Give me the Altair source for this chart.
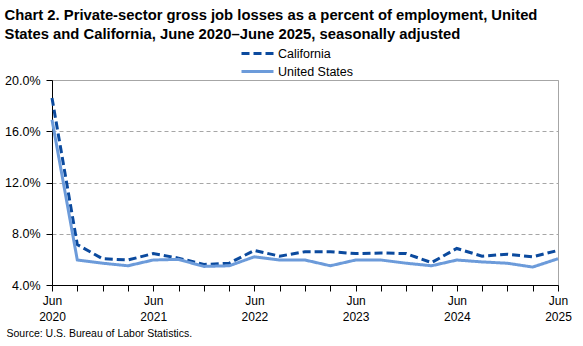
import altair as alt
import pandas as pd

# Quarterly reference months, June 2020 through June 2025
quarters = [
    "Jun 2020", "Sep 2020", "Dec 2020", "Mar 2021",
    "Jun 2021", "Sep 2021", "Dec 2021", "Mar 2022",
    "Jun 2022", "Sep 2022", "Dec 2022", "Mar 2023",
    "Jun 2023", "Sep 2023", "Dec 2023", "Mar 2024",
    "Jun 2024", "Sep 2024", "Dec 2024", "Mar 2025",
    "Jun 2025",
]

# Gross job losses as a percent of employment
california = [18.6, 7.15, 6.05, 5.95, 6.45, 6.1, 5.6, 5.7, 6.7, 6.25, 6.6,
              6.6, 6.45, 6.5, 6.45, 5.75, 6.85, 6.25, 6.4, 6.2, 6.7]
united_states = [16.9, 5.95, 5.7, 5.5, 5.95, 6.0, 5.45, 5.5, 6.2, 5.95, 5.95,
                 5.5, 5.95, 5.95, 5.7, 5.5, 5.95, 5.8, 5.7, 5.4, 6.05]

series_names = ["California", "United States"]
series_colors = ["#0B4A9E", "#6C9BDA"]
series_dashes = [[8, 4], [1, 0]]
y_ticks = [4, 8, 12, 16, 20]

title_lines = [
    "Chart 2.  Private-sector gross job losses as a percent of employment,  United",
    "States and California, June 2020\u2013June 2025,  seasonally adjusted",
]
source_note = "Source: U.S. Bureau of Labor Statistics."

rows = []
for name, values in zip(series_names, [california, united_states]):
    for q, v in zip(quarters, values):
        rows.append({"quarter": q, "area": name, "value": v})
df = pd.DataFrame(rows)

FONT = "Liberation Sans"

legend = alt.Legend(
    title=None,
    orient="none",
    legendX=188,
    legendY=-35,
    symbolType="stroke",
    symbolSize=1024,
    symbolStrokeWidth=3,
    clipHeight=17,
    rowPadding=1,
    labelFont=FONT,
    labelFontSize=12.5,
    labelColor="#000000",
    labelOffset=3,
)

chart = (
    alt.Chart(df)
    .mark_line(strokeWidth=3)
    .encode(
        x=alt.X(
            "quarter:O",
            sort=quarters,
            scale=alt.Scale(type="point", padding=0),
            axis=alt.Axis(
                title=source_note,
                titleX=-46,
                titleY=48,
                titleAlign="left",
                titleBaseline="middle",
                titleFont=FONT,
                titleFontSize=10.5,
                titleFontWeight="normal",
                titleColor="#000000",
                labelExpr="slice(datum.value, 0, 3) == 'Jun' ? split(datum.value, ' ') : ''",
                labelAngle=0,
                labelFont=FONT,
                labelFontSize=12,
                labelColor="#000000",
                labelLineHeight=16,
                labelPadding=4,
                labelOverlap=False,
                labelBound=False,
                labelFlush=False,
                tickSize=6,
                tickColor="#000000",
                domainColor="#000000",
                grid=False,
            ),
        ),
        y=alt.Y(
            "value:Q",
            scale=alt.Scale(domain=[4, 20], nice=False, zero=False),
            axis=alt.Axis(
                title=None,
                values=y_ticks,
                labelExpr="format(datum.value, '.1f') + '%'",
                labelFont=FONT,
                labelFontSize=12.5,
                labelColor="#000000",
                labelPadding=6,
                tickSize=6,
                tickColor="#000000",
                domainColor="#000000",
                grid=True,
                gridColor="#A6A6A6",
                gridDash=[4, 3],
            ),
        ),
        color=alt.Color(
            "area:N",
            scale=alt.Scale(domain=series_names, range=series_colors),
            legend=legend,
        ),
        strokeDash=alt.StrokeDash(
            "area:N",
            scale=alt.Scale(domain=series_names, range=series_dashes),
            legend=legend,
        ),
    )
    .properties(
        width=506,
        height=205,
        title=alt.Title(
            text=title_lines,
            anchor="start",
            align="left",
            offset=3,
            font=FONT,
            fontSize=14.8,
            fontWeight="bold",
            color="#000000",
            lineHeight=19,
        ),
        autosize=alt.AutoSizeParams(type="none"),
        padding={"left": 52, "top": 80, "right": 25, "bottom": 61},
    )
    .configure_view(stroke="#A6A6A6", strokeWidth=1)
)

chart.save("out.html", embed_options={"renderer": "svg", "actions": False})
